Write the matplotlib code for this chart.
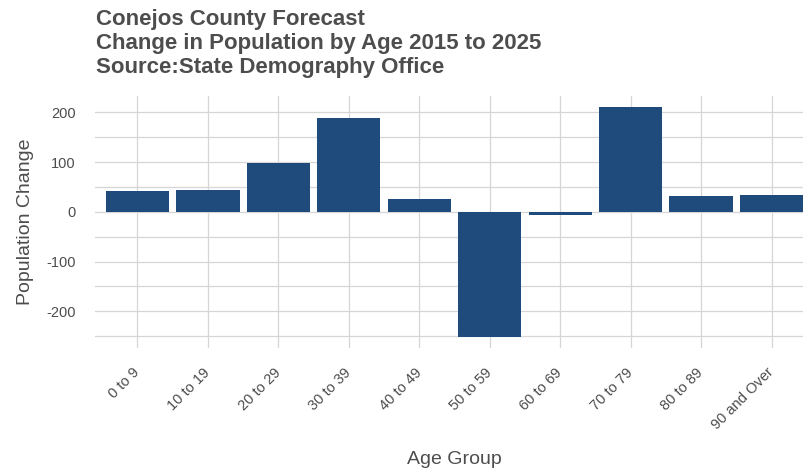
import matplotlib.pyplot as plt
import matplotlib.transforms as mtransforms

age_groups = ["0 to 9", "10 to 19", "20 to 29", "30 to 39", "40 to 49",
              "50 to 59", "60 to 69", "70 to 79", "80 to 89", "90 and Over"]
pop_change = [42, 44, 98, 188, 25, -251, -7, 210, 31, 33]

title_lines = ["Conejos County Forecast",
               "Change in Population by Age 2015 to 2025",
               "Source:State Demography Office"]

plt.rcParams['font.family'] = ['Liberation Sans', 'DejaVu Sans']
plt.rcParams['axes.unicode_minus'] = False
text_col = "#4D4D4D"
grid_col = "#D6D6D6"
bar_col = "#1F4B7C"

fig = plt.figure(figsize=(8.04, 4.71), dpi=100)
ax = fig.add_axes([95/804, 1 - 348/471, (814 - 95)/804, (348 - 96)/471])

x = list(range(1, len(age_groups) + 1))
ax.bar(x, pop_change, width=0.9, color=bar_col, zorder=3)

ax.set_xlim(0.4, len(age_groups) + 0.6)
ax.set_ylim(-274, 233)
ax.set_yticks([-200, -100, 0, 100, 200])
ax.set_yticks([-250, -150, -50, 50, 150], minor=True)
ax.set_xticks(x)
ax.set_xticklabels(age_groups, rotation=45, ha="right", va="center",
                   rotation_mode="anchor")
offset = mtransforms.ScaledTranslation(7/100, 0, fig.dpi_scale_trans)
for lab in ax.get_xticklabels():
    lab.set_transform(lab.get_transform() + offset)

ax.grid(True, which="both", color=grid_col, linewidth=0.9, zorder=0)
ax.tick_params(axis="both", which="both", length=0, colors=text_col,
               labelsize=10.5)
ax.tick_params(axis="x", pad=16)
ax.tick_params(axis="y", pad=14)
for s in ax.spines.values():
    s.set_visible(False)

ax.set_ylabel("Population Change", fontsize=14, color=text_col, labelpad=9)
fig.text(454/804, 1 - 459/471, "Age Group", fontsize=14, color=text_col,
         ha="center", va="center")

for i, line in enumerate(title_lines):
    fig.text(96/804, 1 - (19 + i * 24)/471, line, fontsize=16,
             fontweight="bold", color=text_col, ha="left", va="center")

fig.savefig("out.png", dpi=100)
